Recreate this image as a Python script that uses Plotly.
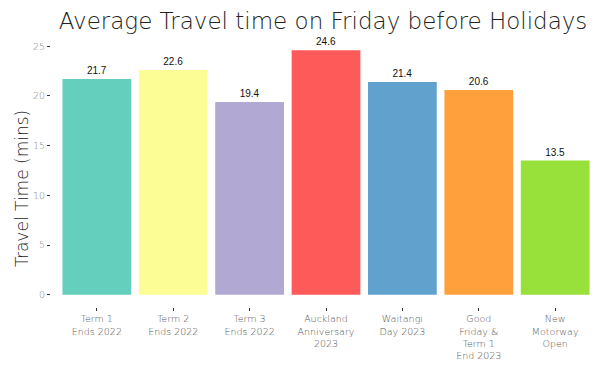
import plotly.graph_objects as go

categories = ["Term 1<br>Ends 2022", "Term 2<br>Ends 2022", "Term 3<br>Ends 2022",
              "Auckland<br>Anniversary<br>2023", "Waitangi<br>Day 2023",
              "Good<br>Friday &<br>Term 1<br>End 2023", "New<br>Motorway<br>Open"]
values = [21.7, 22.6, 19.4, 24.6, 21.4, 20.6, 13.5]
colors = ["#63CFBC", "#FDFD96", "#B1A8D4", "#FF5A5A", "#60A2CD", "#FFA03C", "#98E03A"]

fig = go.Figure(go.Bar(
    x=list(range(1, 8)), y=values, marker_color=colors, marker_line_width=0,
    width=0.9, text=[f"{v:.1f}" for v in values], textposition="outside",
    textfont=dict(family="Liberation Sans, Arial", size=10, color="#111111"),
    cliponaxis=False,
))

font_main = "DejaVu Sans, sans-serif"
fig.update_layout(
    width=600, height=371,
    margin=dict(l=43, r=7, t=30, b=72, autoexpand=False),
    paper_bgcolor="white", plot_bgcolor="white",
    showlegend=False,
    title=dict(text="Average Travel time on Friday before Holidays",
               font=dict(family=font_main, size=23, color="#222222", weight=200),
               x=0.525, xanchor="center", y=0.987, yanchor="top"),
    xaxis=dict(range=[0.4, 7.6], tickmode="array", tickvals=list(range(1, 8)),
               ticktext=categories, showgrid=False, zeroline=False, automargin=False,
               ticks="outside", ticklen=3, tickcolor="#333333",
               tickfont=dict(family=font_main, size=9.5, color="#555555", weight=200)),
    yaxis=dict(range=[-1.23, 25.83], tickvals=[0, 5, 10, 15, 20, 25],
               showgrid=False, zeroline=False, automargin=False,
               ticks="outside", ticklen=3, tickcolor="#333333",
               tickfont=dict(family=font_main, size=9.5, color="#888888", weight=200)),
    annotations=[dict(text="Travel Time (mins)", xref="paper", yref="paper",
                      x=-0.0527, y=0.439, xanchor="center", yanchor="middle",
                      textangle=-90, showarrow=False,
                      font=dict(family=font_main, size=17, color="#222222", weight=200))],
)
fig.write_html("out.html")
